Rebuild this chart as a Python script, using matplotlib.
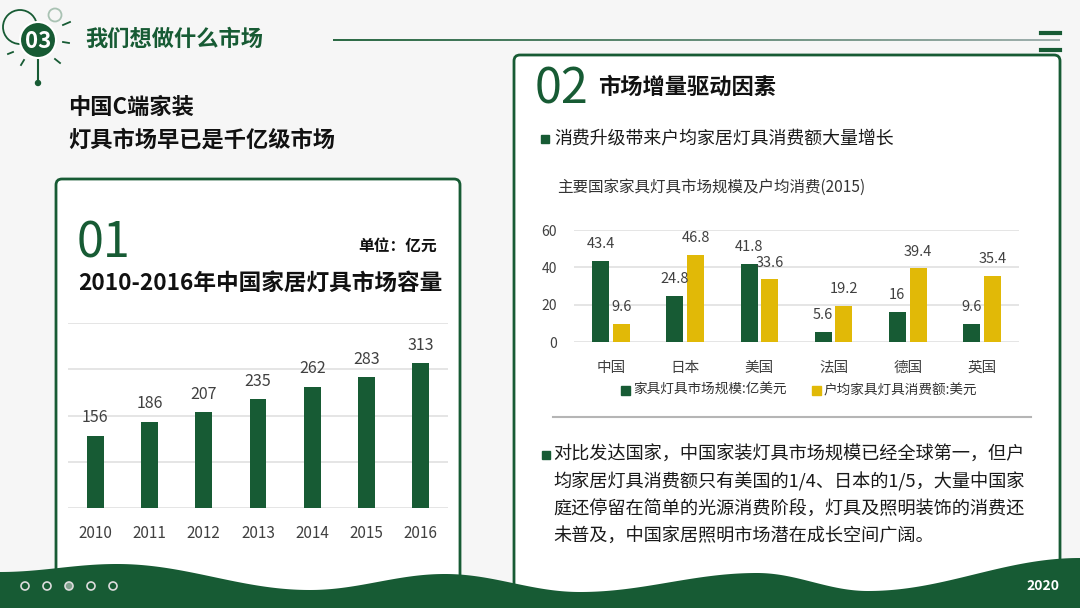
import numpy as np
import matplotlib.pyplot as plt
from matplotlib.patches import FancyBboxPatch, Circle, Rectangle
from matplotlib.collections import LineCollection

plt.rcParams['font.family'] = ['Noto Sans CJK SC', 'DejaVu Sans']

green = '#175b34'
yellow = '#e1b907'

# left chart data
years = ['2010', '2011', '2012', '2013', '2014', '2015', '2016']
market = [156, 186, 207, 235, 262, 283, 313]

# right chart data
countries = ['中国', '日本', '美国', '法国', '德国', '英国']
scale = [43.4, 24.8, 41.8, 5.6, 16, 9.6]
per_home = [9.6, 46.8, 33.6, 19.2, 39.4, 35.4]
legend_names = ['家具灯具市场规模:亿美元', '户均家具灯具消费额:美元']

paragraph = ['对比发达国家，中国家装灯具市场规模已经全球第一，但户',
             '均家居灯具消费额只有美国的1/4、日本的1/5，大量中国家',
             '庭还停留在简单的光源消费阶段，灯具及照明装饰的消费还',
             '未普及，中国家居照明市场潜在成长空间广阔。']

fig = plt.figure(figsize=(10.8, 6.08), dpi=100)
fig.patch.set_facecolor('#f6f6f6')

# background layer in pixel coords
bg = fig.add_axes([0, 0, 1, 1])
bg.set_xlim(0, 1080)
bg.set_ylim(608, 0)
bg.axis('off')

# cards
bg.add_patch(FancyBboxPatch((56, 179), 404, 500, boxstyle='round,pad=0,rounding_size=6',
                            facecolor='white', edgecolor=green, lw=2, zorder=1))
bg.add_patch(FancyBboxPatch((514, 55), 546, 600, boxstyle='round,pad=0,rounding_size=6',
                            facecolor='white', edgecolor=green, lw=2, zorder=1))

# header icon
bg.add_patch(Circle((20, 27), 17, facecolor='none', edgecolor=green, lw=1.3, zorder=2))
bg.add_patch(Circle((55, 15), 6.5, facecolor='none', edgecolor='#a9c2b3', lw=1.3, zorder=2))
bg.add_patch(Circle((38, 40), 18, facecolor=green, edgecolor='white', lw=1.5, zorder=3))
bg.text(38, 41, '03', color='white', fontsize=16, fontweight='bold', ha='center', va='center', zorder=4)
for (xa, ya, xb, yb) in [(63, 25, 70, 22), (63, 42, 69, 43), (55, 59, 60, 63), (24, 60, 21, 65), (13, 52, 8, 54)]:
    bg.plot([xa, xb], [ya, yb], color=green, lw=1.3, zorder=2)
bg.plot([38, 38], [58, 82], color=green, lw=1.5, zorder=2)
bg.add_patch(Circle((38, 83), 2.5, color=green, zorder=2))
bg.text(85, 39, '我们想做什么市场', color=green, fontsize=16, fontweight='bold', va='center')

# header line with fade
lx = np.linspace(333, 1060, 200)
segs = [[(lx[i], 40), (lx[i + 1], 40)] for i in range(len(lx) - 1)]
cols = [(0.09 + 0.5 * t, 0.36 + 0.3 * t, 0.2 + 0.45 * t) for t in np.linspace(0, 1, len(segs))]
bg.add_collection(LineCollection(segs, colors=cols, lw=1.3, zorder=2))
bg.plot([1041, 1060], [33, 33], color=green, lw=3, zorder=2)
bg.plot([1041, 1060], [50, 50], color=green, lw=3, zorder=2)

# left texts
bg.text(68, 107, '中国C端家装', fontsize=16, fontweight='bold', color='#111111', va='center')
bg.text(68, 140, '灯具市场早已是千亿级市场', fontsize=16, fontweight='bold', color='#111111', va='center')
bg.text(77, 258, '01', fontsize=35, color=green, fontweight='medium', va='baseline')
bg.text(437, 246, '单位：亿元', fontsize=11.3, fontweight='bold', color='#111111', ha='right', va='center')
bg.text(78, 283, '2010-2016年中国家居灯具市场容量', fontsize=16.3, fontweight='bold',
        color='#111111', va='center')

# right texts
bg.text(535, 103, '02', fontsize=35, color=green, fontweight='medium', va='baseline')
bg.text(598, 87, '市场增量驱动因素', fontsize=16, fontweight='bold', color='#111111', va='center')
bg.add_patch(Rectangle((541, 135), 8, 8, color=green))
bg.text(554, 139, '消费升级带来户均家居灯具消费额大量增长', fontsize=12.9, color='#1a1a1a', va='center')
bg.text(557, 187, '主要国家家具灯具市场规模及户均消费(2015)', fontsize=11.2, color='#333333', va='center')

# legend
bg.add_patch(Rectangle((621, 386), 9, 9, color=green))
bg.text(633, 390, legend_names[0], fontsize=9.8, color='#333333', va='center')
bg.add_patch(Rectangle((812, 386), 9, 9, color=yellow))
bg.text(824, 390, legend_names[1], fontsize=9.8, color='#333333', va='center')
bg.plot([553, 1031], [417, 417], color='#b5b5b5', lw=1.5)

# paragraph
bg.add_patch(Rectangle((542, 451), 8, 8, color=green))
for i, line in enumerate(paragraph):
    bg.text(553, 455 + i * 27.2, line, fontsize=13.1, color='#1a1a1a', va='center')

# bottom wave
px = [0, 117, 310, 445, 580, 757, 868, 1080]
py = [572, 564, 590, 574, 592, 573, 591, 558]
wx, wy = [], []
for i in range(len(px) - 1):
    t = np.linspace(0, 1, 60)
    wx.extend(px[i] + (px[i + 1] - px[i]) * t)
    wy.extend(py[i] + (py[i + 1] - py[i]) * (1 - np.cos(np.pi * t)) / 2)
bg.fill_between(wx, wy, 620, color=green, zorder=5, lw=0)
for i, cx in enumerate([25, 47, 69, 91, 113]):
    fc = '#7f9f8c' if i == 2 else 'none'
    bg.add_patch(Circle((cx, 586), 4, facecolor=fc, edgecolor='#dcdcdc', lw=1.2, zorder=6))
bg.text(1043, 586, '2020', color='white', fontsize=10, fontweight='bold', ha='center', va='center', zorder=6)

# left bar chart
ax1 = fig.add_axes([68 / 1080, 100 / 608, 380 / 1080, 185 / 608])
ax1.set_facecolor('none')
x1 = np.arange(len(years))
ax1.bar(x1, market, width=0.31, color=green, zorder=3)
ax1.set_xlim(-0.5, 6.5)
ax1.set_ylim(0, 400)
ax1.set_yticks([0, 100, 200, 300, 400])
ax1.yaxis.grid(True, color='#e3e3e3', lw=1.3)
ax1.set_axisbelow(True)
for s in ax1.spines.values():
    s.set_visible(False)
ax1.set_xticks(x1)
ax1.set_xticklabels(years, fontsize=11, color='#404040')
ax1.tick_params(left=False, labelleft=False, bottom=False)
ax1.tick_params(axis='x', pad=9)
for i, v in enumerate(market):
    ax1.annotate(str(v), (i, v), xytext=(0, 13), textcoords='offset points',
                 ha='center', va='center', fontsize=11.5, color='#404040')

# right grouped bar chart
ax2 = fig.add_axes([574 / 1080, 266 / 608, 445 / 1080, 112 / 608])
ax2.set_facecolor('none')
x2 = np.arange(len(countries))
ax2.bar(x2 - 0.14, scale, width=0.23, color=green, zorder=3)
ax2.bar(x2 + 0.14, per_home, width=0.23, color=yellow, zorder=3)
ax2.set_xlim(-0.5, 5.5)
ax2.set_ylim(0, 60)
ax2.set_yticks([0, 20, 40, 60])
ax2.yaxis.grid(True, color='#e3e3e3', lw=1.3)
ax2.set_axisbelow(True)
for s in ax2.spines.values():
    s.set_visible(False)
ax2.set_xticks(x2)
ax2.set_xticklabels(countries, fontsize=10.5, color='#404040')
ax2.tick_params(left=False, bottom=False, labelsize=10, labelcolor='#404040')
ax2.tick_params(axis='x', pad=10, labelsize=10.5)
ax2.tick_params(axis='y', pad=9)
for i in range(len(countries)):
    ax2.annotate(f'{scale[i]:g}', (i - 0.14, scale[i]), xytext=(0, 12), textcoords='offset points',
                 ha='center', va='center', fontsize=10.5, color='#404040')
    ax2.annotate(f'{per_home[i]:g}', (i + 0.14, per_home[i]), xytext=(0, 12), textcoords='offset points',
                 ha='center', va='center', fontsize=10.5, color='#404040')

fig.savefig('out.png', dpi=100, facecolor=fig.get_facecolor())
